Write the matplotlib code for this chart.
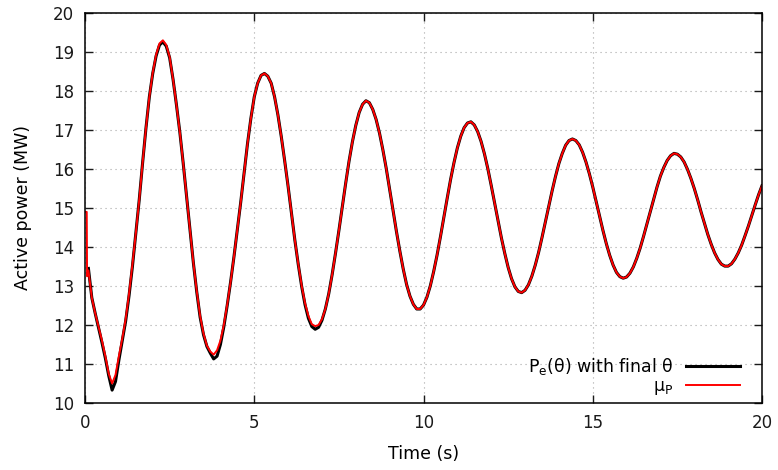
"""Active power: P_e(theta) with final theta vs. mu_P."""

import matplotlib

matplotlib.use("Agg")
import matplotlib.pyplot as plt
import numpy as np

# time grid of the sampled curves (s), 0.1 .. 20.0
time_s = np.round(np.arange(1, 201) * 0.1, 1)

# P_e(theta) with final theta (MW)
pe_final = [
    13.45, 12.70, 12.30, 11.93, 11.55, 11.15, 10.70, 10.33, 10.55, 11.10,
    11.60, 12.10, 12.75, 13.50, 14.35, 15.20, 16.15, 17.05, 17.85, 18.45,
    18.90, 19.18, 19.26, 19.15, 18.85, 18.30, 17.65, 16.95, 16.15, 15.30,
    14.45, 13.60, 12.85, 12.20, 11.75, 11.45, 11.28, 11.13, 11.20, 11.50,
    11.95, 12.50, 13.10, 13.75, 14.45, 15.15, 15.90, 16.65, 17.30, 17.85,
    18.20, 18.40, 18.45, 18.38, 18.20, 17.85, 17.38, 16.82, 16.20, 15.55,
    14.85, 14.17, 13.55, 12.99, 12.52, 12.17, 11.96, 11.89, 11.94, 12.12,
    12.41, 12.80, 13.29, 13.84, 14.42, 15.03, 15.63, 16.20, 16.70, 17.12,
    17.45, 17.66, 17.75, 17.70, 17.53, 17.27, 16.92, 16.49, 16.01, 15.48,
    14.94, 14.40, 13.90, 13.44, 13.04, 12.74, 12.53, 12.41, 12.41, 12.51,
    12.71, 13.00, 13.37, 13.79, 14.26, 14.76, 15.25, 15.73, 16.16, 16.54,
    16.84, 17.06, 17.18, 17.21, 17.13, 16.96, 16.71, 16.39, 16.01, 15.58,
    15.13, 14.68, 14.24, 13.84, 13.48, 13.19, 12.98, 12.86, 12.83, 12.89,
    13.03, 13.25, 13.53, 13.86, 14.24, 14.64, 15.04, 15.44, 15.81, 16.14,
    16.40, 16.61, 16.73, 16.77, 16.73, 16.62, 16.43, 16.18, 15.88, 15.54,
    15.17, 14.80, 14.43, 14.09, 13.79, 13.54, 13.35, 13.24, 13.20, 13.23,
    13.33, 13.49, 13.71, 13.97, 14.27, 14.59, 14.92, 15.24, 15.54, 15.82,
    16.04, 16.22, 16.34, 16.40, 16.38, 16.31, 16.18, 15.99, 15.76, 15.50,
    15.21, 14.90, 14.61, 14.32, 14.07, 13.85, 13.68, 13.56, 13.51, 13.51,
    13.57, 13.69, 13.85, 14.05, 14.29, 14.54, 14.81, 15.08, 15.34, 15.57,
]

# mu_P: initial step before the grid, then its own values up to 7.0 s;
# afterwards it lies on top of P_e
mu_start_t = [0.0, 0.05, 0.06]
mu_start_p = [14.9, 14.9, 13.25]
mu_head = [
    13.40, 12.70, 12.30, 11.95, 11.60, 11.20, 10.75, 10.50, 10.72, 11.20,
    11.65, 12.15, 12.80, 13.55, 14.35, 15.20, 16.15, 17.05, 17.85, 18.47,
    18.93, 19.22, 19.30, 19.18, 18.87, 18.30, 17.65, 16.95, 16.15, 15.30,
    14.45, 13.60, 12.87, 12.23, 11.78, 11.47, 11.32, 11.24, 11.35, 11.60,
    12.00, 12.52, 13.10, 13.75, 14.45, 15.15, 15.90, 16.65, 17.30, 17.85,
    18.20, 18.40, 18.45, 18.38, 18.20, 17.85, 17.38, 16.82, 16.20, 15.55,
    14.85, 14.17, 13.56, 13.01, 12.56, 12.23, 12.02, 11.97, 12.00, 12.15,
]

mu_t = np.concatenate([mu_start_t, time_s])
mu_p = np.concatenate([mu_start_p, mu_head, pe_final[len(mu_head):]])

plt.rcParams["font.family"] = ["DejaVu Sans"]
plt.rcParams["mathtext.fontset"] = "dejavusans"

fig = plt.figure(figsize=(7.78, 4.70), dpi=100)
ax = fig.add_axes([0.1093, 0.1426, 0.8701, 0.8297])

ax.plot(time_s, pe_final, color="black", lw=2.2,
        label=r"P$_\mathrm{e}$(θ) with final θ")
ax.plot(mu_t, mu_p, color="#ff0000", lw=1.4, label=r"μ$_\mathrm{P}$")

ax.set_xlim(0, 20)
ax.set_ylim(10, 20)
ax.set_xticks([0, 5, 10, 15, 20])
ax.set_yticks(range(10, 21))
ax.grid(True, color="#a8a8a8", lw=0.8, linestyle=(0, (1, 3.5)))
ax.tick_params(direction="in", length=6, width=1.0, top=True, right=True,
               labelsize=12, colors="#1a1a1a")
ax.tick_params(axis="x", pad=8)
ax.tick_params(axis="y", pad=8)
for sp in ax.spines.values():
    sp.set_linewidth(1.1)

ax.set_xlabel("Time (s)", fontsize=12.5, labelpad=9)
ax.set_ylabel("Active power (MW)", fontsize=12.5, labelpad=15)

leg = ax.legend(loc="lower right", frameon=False, markerfirst=False,
                bbox_to_anchor=(0.99, -0.026),
                handlelength=3.1, fontsize=12.5, borderaxespad=0.5,
                labelspacing=0.05, handletextpad=0.7)
for t in leg.get_texts():
    t.set_ha("right")
leg._legend_box.align = "right"

fig.savefig("out.png", dpi=100)
